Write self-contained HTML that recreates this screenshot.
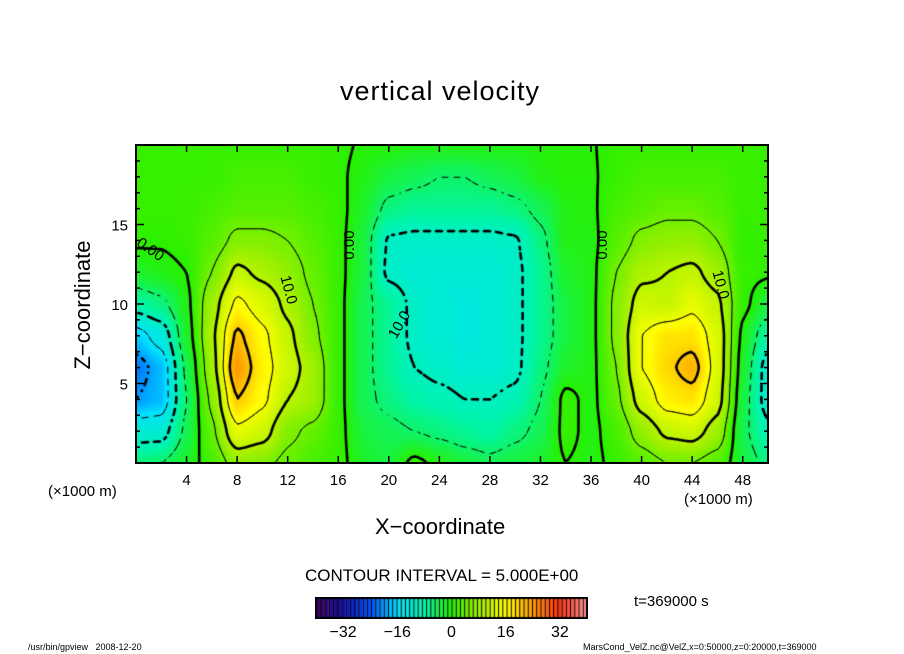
<!DOCTYPE html>
<html><head><meta charset="utf-8">
<style>
body{margin:0;background:#fff;width:904px;height:654px;position:relative;overflow:hidden;font-family:"Liberation Sans",sans-serif;}
.t{position:absolute;white-space:nowrap;color:#000;}
</style></head>
<body>
<div class="t" style="left:340px;top:76px;font-size:27px;letter-spacing:1px;">vertical velocity</div>
<canvas id="field" width="632" height="318" style="position:absolute;left:136px;top:145px;"></canvas>
<svg id="axes" width="904" height="654" style="position:absolute;left:0;top:0;"></svg>
<div class="t" style="left:-2px;top:292px;font-size:22px;transform:rotate(-90deg);transform-origin:center;width:170px;text-align:center;">Z−coordinate</div>
<div class="t" style="left:375px;top:514px;font-size:22px;">X−coordinate</div>
<div class="t" style="left:48px;top:483px;font-size:15px;">(×1000 m)</div>
<div class="t" style="left:684px;top:491px;font-size:15px;">(×1000 m)</div>
<div class="t" style="left:305px;top:566px;font-size:17px;">CONTOUR INTERVAL = 5.000E+00</div>
<canvas id="cbar" width="273" height="22" style="position:absolute;left:315px;top:597px;"></canvas>
<div class="t" style="left:634px;top:593px;font-size:15px;">t=369000 s</div>
<div class="t" style="left:28px;top:642px;font-size:9px;">/usr/bin/gpview&nbsp;&nbsp; 2008-12-20</div>
<div class="t" style="left:583px;top:642px;font-size:9px;">MarsCond_VelZ.nc@VelZ,x=0:50000,z=0:20000,t=369000</div>
<script>
const xCoords=[0,2,4,6,8,10,12,14,16,18,20,22,24,26,28,30,32,34,36,38,40,42,44,46,48,50];
const zCoords=[0,2,4,6,8,10,12,14,16,18,20];
const values=[
[-6,-5,-2,2,7,6,4,2,1,-2,-3,1,-1,-3,-4,-3,-2,0,-1,1,3,5,5,3,-3,-6],
[-12,-12,-4,4,14,12,6,4,1,-3,-4,-5,-6,-7,-8,-6,-4,1,-1,2,7,11,12,8,-4,-9],
[-20,-18,-5,6,20,16,10,8,1,-4,-6,-8,-9,-10,-10,-9,-5,1,-1,4,12,17,18,12,-3,-12],
[-22,-18,-4,8,24,17,12,8,1,-4,-7,-10,-11,-12,-12,-11,-6,-2,-1,5,15,19,22,13,-2,-12],
[-17,-13,-2,9,21,16,11,6,1,-4,-7,-11,-12,-13,-12,-11,-7,-3,-1,6,15,18,18,13,-1,-8],
[-8,-6,-1,8,16,13,9,5,1,-4,-7,-11,-12,-13,-12,-11,-7,-3,-1,6,12,11,14,11,1,-3],
[-2,-1,0,5,11,9,7,4,1,-3,-11,-12,-12,-12,-12,-11,-7,-2,-1,5,9,10,11,8,1,0.5],
[0.5,0.3,1,3,6,6,5,3,1,-3,-10.5,-11,-11,-11,-11,-10.5,-6,-1,-1,3,6,7,7,5,0.5,1],
[1,1,1,2,3,3,3,2,1,-2,-6,-7,-7,-7,-7,-6,-4,-1,-0.5,2,3,4,4,3,1,1],
[1,1,1,1,2,2,2,1,0.5,-1,-3,-4,-5,-5,-4,-3,-1,-0.3,-0.3,1,2,2,2,2,1,1],
[1,1,1,1,1,1,1,1,0.5,-0.3,-0.5,-1,-1,-1,-1,-1,-0.5,-0.3,-0.2,1,1,1,1,1,1,1]];
const levels=[-20,-15,-10,-5,0,5,10,15,20];
const xTicks=[4,8,12,16,20,24,28,32,36,40,44,48];
const zTicks=[5,10,15];
const cbarTicks=[-32,-16,0,16,32];

const X0=136,W=632,Y0=145,H=318,XMAX=50,ZMAX=20;
function sx(x){return X0+x/XMAX*W;}
function sz(z){return Y0+H-z/ZMAX*H;}
function val(x,z){
  let fi=x/(xCoords[1]-xCoords[0]),fj=z/(zCoords[1]-zCoords[0]);
  let i=Math.min(Math.floor(fi),xCoords.length-2),j=Math.min(Math.floor(fj),zCoords.length-2);
  let a=fi-i,b=fj-j;
  a=a*a*(3-2*a)*0.5+a*0.5;b=b*b*(3-2*b)*0.5+b*0.5;
  return (values[j][i]*(1-a)+values[j][i+1]*a)*(1-b)+(values[j+1][i]*(1-a)+values[j+1][i+1]*a)*b;
}
const stops=[[-40,[64,0,96]],[-32,[20,16,170]],[-24,[0,80,255]],[-16,[0,225,255]],[-8,[0,245,170]],[0,[40,240,0]],[8,[160,240,0]],[16,[255,255,0]],[24,[255,150,0]],[32,[255,50,20]],[40,[255,150,150]]];
function color(v){
  if(v<=stops[0][0])return stops[0][1];
  for(let k=0;k<stops.length-1;k++){
    if(v<=stops[k+1][0]){let t=(v-stops[k][0])/(stops[k+1][0]-stops[k][0]);
      return stops[k][1].map((c,m)=>Math.round(c+(stops[k+1][1][m]-c)*t));}
  }
  return stops[stops.length-1][1];
}
const cv=document.getElementById('field'),ctx=cv.getContext('2d');
const img=ctx.createImageData(W,H);
for(let py=0;py<H;py++)for(let px=0;px<W;px++){
  const x=(px+0.5)/W*XMAX,z=(H-py-0.5)/H*ZMAX;
  const c=color(val(x,z));const o=(py*W+px)*4;
  img.data[o]=c[0];img.data[o+1]=c[1];img.data[o+2]=c[2];img.data[o+3]=255;
}
ctx.putImageData(img,0,0);
const S=3,nx=Math.ceil(W/S),ny=Math.ceil(H/S);
const g=[];
for(let j=0;j<=ny;j++){g[j]=[];for(let i=0;i<=nx;i++){
  g[j][i]=val(Math.min(i*S,W)/W*XMAX,(H-Math.min(j*S,H))/H*ZMAX);}}
ctx.strokeStyle='#000';ctx.lineCap='round';
levels.forEach(L=>{
  ctx.lineWidth=(L%10===0)?2.6:1;
  ctx.beginPath();
  for(let j=0;j<ny;j++)for(let i=0;i<nx;i++){
    const c=[[i*S,j*S,g[j][i]],[(i+1)*S,j*S,g[j][i+1]],[(i+1)*S,(j+1)*S,g[j+1][i+1]],[i*S,(j+1)*S,g[j+1][i]]];
    const pts=[];
    for(let e=0;e<4;e++){const p=c[e],q=c[(e+1)%4];
      if((p[2]-L)*(q[2]-L)<0){const t=(L-p[2])/(q[2]-p[2]);pts.push([p[0]+(q[0]-p[0])*t,p[1]+(q[1]-p[1])*t]);}}
    for(let k=0;k+1<pts.length;k+=2){
      const mx=(pts[k][0]+pts[k+1][0])/2,my=(pts[k][1]+pts[k+1][1])/2;
      if(L<0&&((Math.floor(mx/6)+Math.floor(my/6))%2)!==0)continue;
      ctx.moveTo(pts[k][0],pts[k][1]);ctx.lineTo(pts[k+1][0],pts[k+1][1]);}
  }
  ctx.stroke();
});
const svg=document.getElementById('axes');const NS='http://www.w3.org/2000/svg';
function add(tag,attrs,txt){const e=document.createElementNS(NS,tag);for(const k in attrs)e.setAttribute(k,attrs[k]);if(txt!==undefined)e.textContent=txt;svg.appendChild(e);return e;}
const frame=add('rect',{x:X0,y:Y0,width:W,height:H,fill:'none',stroke:'#000','stroke-width':2});


xTicks.forEach(v=>{
  const t1=add('line',{x1:sx(v),x2:sx(v),y1:Y0+H,y2:Y0+H-7,stroke:'#000','stroke-width':1.5});
  
  
  add('line',{x1:sx(v),x2:sx(v),y1:Y0,y2:Y0+7,stroke:'#000','stroke-width':1.5});
  const lb=add('text',{x:sx(v),y:Y0+H+22,'text-anchor':'middle','font-size':15,'font-family':'Liberation Sans, sans-serif'},String(v));
  
  
});
for(let z=1;z<ZMAX;z++){
  const len=(z%5===0)?8:4;
  add('line',{x1:X0,x2:X0+len,y1:sz(z),y2:sz(z),stroke:'#000','stroke-width':1.5});
  add('line',{x1:X0+W,x2:X0+W-len,y1:sz(z),y2:sz(z),stroke:'#000','stroke-width':1.5});
}
zTicks.forEach(v=>{
  const lb=add('text',{x:X0-8,y:sz(v)+6,'text-anchor':'end','font-size':15,'font-family':'Liberation Sans, sans-serif'},String(v));
  
  
});
[[150,250,35,'0.00'],[350,245,-90,'0.00'],[603,245,-90,'0.00'],[288,290,75,'10.0'],[400,325,-60,'10.0'],[720,285,75,'10.0']].forEach(a=>{
  const lb=add('text',{x:a[0],y:a[1],'font-size':15,'text-anchor':'middle','dominant-baseline':'middle','font-family':'Liberation Sans, sans-serif',transform:'rotate('+a[2]+' '+a[0]+' '+a[1]+')'},a[3]);
  
  
});
const cb=document.getElementById('cbar'),cc=cb.getContext('2d');
const CW=273,CMIN=-40,CMAX=40,NC=64;
for(let k=0;k<NC;k++){
  const v=CMIN+(k+0.5)*(CMAX-CMIN)/NC;const c=color(v);
  const x0=1+k*(CW-2)/NC;
  cc.fillStyle='rgb('+c.join(',')+')';cc.fillRect(x0,1,(CW-2)/NC,20);
  cc.fillStyle='#000';cc.fillRect(x0,1,1,20);
}
cc.strokeStyle='#000';cc.lineWidth=2;cc.strokeRect(1,1,CW-2,20);
cbarTicks.forEach(v=>{
  const x=316+(v-CMIN)/(CMAX-CMIN)*(CW-2);
  const lb=add('text',{x:x,y:637,'text-anchor':'middle','font-size':16,'font-family':'Liberation Sans, sans-serif'},(v<0?'−':'')+Math.abs(v));
  
  
});
</script>
</body></html>
